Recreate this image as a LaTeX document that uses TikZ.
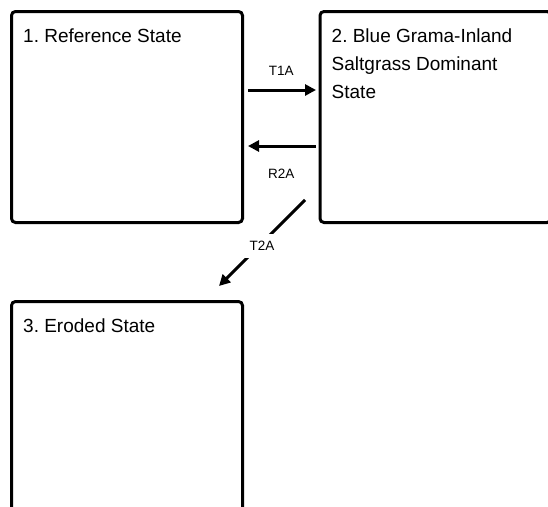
\documentclass[tikz,border=0pt]{standalone}
\usepackage{fontspec}
\setmainfont{Liberation Sans}
\usetikzlibrary{positioning,arrows.meta}
\frenchspacing

\begin{document}
\begin{tikzpicture}[
  x=1pt, y=-1pt,
  st/.style={draw,line width=3pt,rounded corners=4pt,minimum width=231pt,minimum height=211pt},
  stlbl/.style={anchor=north west,inner sep=0pt,xshift=13pt,yshift=-19pt,align=left,font=\fontsize{19}{28}\selectfont},
  tr/.style={font=\fontsize{13.5}{16}\selectfont,inner sep=0pt},
  a/.style={-{Triangle[length=11pt,width=11pt]},line width=3pt},
]
  \useasboundingbox (0,0) rectangle (548,506);

  \node[st,label={[stlbl]north west:1. Reference State}] (ref) at (127,117) {};
  \node[st,right=74.5pt of ref,label={[stlbl]north west:{2. Blue Grama-Inland\\Saltgrass Dominant\\State}}] (dom) {};
  \node[st,below=76pt of ref,label={[stlbl]north west:3. Eroded State}] (ero) {};

  \draw[a,shorten <=4pt,shorten >=2.5pt] ([yshift=27pt]ref.east) -- ([yshift=27pt]dom.west)
    node[tr,midway,above=13pt] {T1A};
  \draw[a,shorten <=2.5pt,shorten >=4pt] ([yshift=-29pt]dom.west) -- ([yshift=-29pt]ref.east)
    node[tr,midway,below=22pt] {R2A};
  \draw[a] ([xshift=-13.5pt,yshift=24pt]dom.south west) -- ([xshift=-25pt,yshift=14pt]ero.north east)
    node[tr,midway,fill=white,inner sep=7pt,yshift=-3pt] {T2A};
\end{tikzpicture}
\end{document}
